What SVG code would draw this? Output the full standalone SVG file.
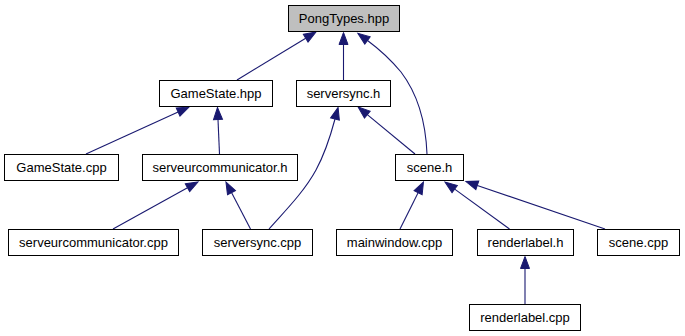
<svg xmlns="http://www.w3.org/2000/svg" width="685" height="336" viewBox="0 0 685 336">
  <defs>
    <style>
      .node rect { fill: #ffffff; stroke: #000000; stroke-width: 1; }
      .node.root rect { fill: #bfbfbf; }
      .node text { font-family: "Liberation Sans", Arial, Helvetica, sans-serif; font-size: 13px; fill: #000000; text-anchor: middle; }
      .edges path { fill: none; stroke: #191970; stroke-width: 1.1; marker-end: url(#head); }
    </style>
    <marker id="head" markerUnits="userSpaceOnUse" markerWidth="14" markerHeight="11" viewBox="0 -5.5 13 11" refX="0" refY="0" orient="auto" overflow="visible">
      <path d="M0,-4.5 L12,0 L0,4.5 Z" fill="#191970" stroke="#191970" stroke-width="1"/>
    </marker>
  </defs>
  <rect width="685" height="336" fill="#ffffff"/>

  <!-- include dependency edges: each path ends at the arrowhead base -->
  <g id="edges" class="edges">
    <path d="M237,80 L305.7,38.2"/>
    <path d="M343.5,80 L343.5,44.5"/>
    <path d="M427,154 C426,128 420,97 401,72 C391,60 379,49 367.5,40.5"/>
    <path d="M86,154 L178.1,112"/>
    <path d="M219.5,154 L218,119.5"/>
    <path d="M415,154 L367.3,114.6"/>
    <path d="M113,229 L187.5,187.8"/>
    <path d="M250.5,229 L231.5,192.6"/>
    <path d="M269,229 C285,211 304,192 316,170 C325.5,152.5 331,134 335,119"/>
    <path d="M400,229 L418.1,192.7"/>
    <path d="M509.5,229 L454.7,189.1"/>
    <path d="M605,229 L477.3,185.4"/>
    <path d="M525,304 L525,268.5"/>
  </g>

  <g id="node-pongtypes-hpp" class="node root">
    <rect x="288.5" y="5.5" width="111" height="26"/>
    <text x="344" y="23">PongTypes.hpp</text>
  </g>
  <g id="node-gamestate-hpp" class="node">
    <rect x="159.5" y="80.5" width="113" height="26"/>
    <text x="216" y="98">GameState.hpp</text>
  </g>
  <g id="node-serversync-h" class="node">
    <rect x="296.5" y="80.5" width="94" height="26"/>
    <text x="343.5" y="98">serversync.h</text>
  </g>
  <g id="node-gamestate-cpp" class="node">
    <rect x="4.5" y="154.5" width="114" height="26"/>
    <text x="61.5" y="172">GameState.cpp</text>
  </g>
  <g id="node-serveurcommunicator-h" class="node">
    <rect x="142.5" y="154.5" width="155" height="26"/>
    <text x="220" y="172">serveurcommunicator.h</text>
  </g>
  <g id="node-scene-h" class="node">
    <rect x="395.5" y="154.5" width="68" height="26"/>
    <text x="429.5" y="172">scene.h</text>
  </g>
  <g id="node-serveurcommunicator-cpp" class="node">
    <rect x="8.5" y="229.5" width="170" height="26"/>
    <text x="93.5" y="247">serveurcommunicator.cpp</text>
  </g>
  <g id="node-serversync-cpp" class="node">
    <rect x="202.5" y="229.5" width="110" height="26"/>
    <text x="257.5" y="247">serversync.cpp</text>
  </g>
  <g id="node-mainwindow-cpp" class="node">
    <rect x="336.5" y="229.5" width="116" height="26"/>
    <text x="394.5" y="247">mainwindow.cpp</text>
  </g>
  <g id="node-renderlabel-h" class="node">
    <rect x="477.5" y="229.5" width="96" height="26"/>
    <text x="525.5" y="247">renderlabel.h</text>
  </g>
  <g id="node-scene-cpp" class="node">
    <rect x="597.5" y="229.5" width="82" height="26"/>
    <text x="638.5" y="247">scene.cpp</text>
  </g>
  <g id="node-renderlabel-cpp" class="node">
    <rect x="469.5" y="304.5" width="111" height="26"/>
    <text x="525" y="322">renderlabel.cpp</text>
  </g>
</svg>
